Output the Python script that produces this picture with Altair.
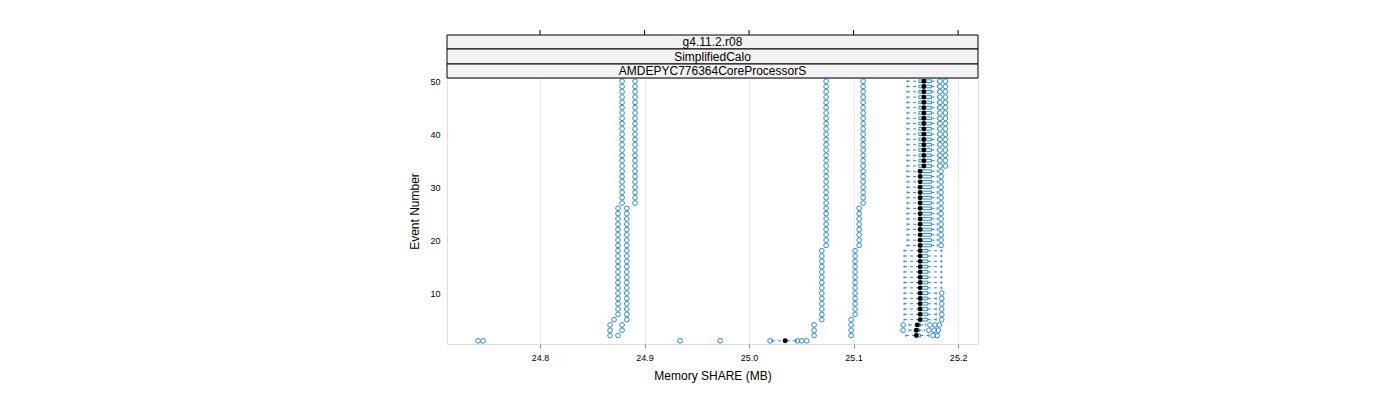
import altair as alt
import pandas as pd

# ---------------- data ----------------
events = list(range(1, 51))

whisker_lo = [25.0220, 25.1500, 25.1530, 25.1530,
              25.1483, 25.1483, 25.1483, 25.1483, 25.1483, 25.1483, 25.1483, 25.1483, 25.1483, 25.1483,
              25.1483, 25.1483, 25.1483, 25.1483,
              25.1512, 25.1512, 25.1512, 25.1512, 25.1512, 25.1512, 25.1512, 25.1512, 25.1512, 25.1512,
              25.1512, 25.1512, 25.1512, 25.1512, 25.1512, 25.1512, 25.1512, 25.1512, 25.1512, 25.1512,
              25.1512, 25.1512, 25.1512, 25.1512, 25.1512, 25.1512, 25.1512, 25.1512, 25.1512, 25.1512,
              25.1512, 25.1512]
box_q1 = [25.0330, 25.1590, 25.1585, 25.1590,
          25.1625, 25.1625, 25.1625, 25.1625, 25.1625, 25.1625, 25.1625, 25.1625, 25.1625, 25.1625,
          25.1625, 25.1625, 25.1625, 25.1625, 25.1625, 25.1625, 25.1625, 25.1625, 25.1625, 25.1625,
          25.1625, 25.1625, 25.1625, 25.1625, 25.1625, 25.1625, 25.1625, 25.1625, 25.1625,
          25.1624, 25.1624, 25.1624, 25.1624, 25.1624, 25.1624, 25.1624, 25.1624, 25.1624, 25.1624,
          25.1624, 25.1624, 25.1624, 25.1624, 25.1624, 25.1624, 25.1624]
median = [25.0345, 25.1600, 25.1600, 25.1610,
          25.1636, 25.1636, 25.1636, 25.1636, 25.1636, 25.1636, 25.1636, 25.1636, 25.1636, 25.1636,
          25.1636, 25.1636, 25.1636, 25.1636, 25.1636, 25.1636, 25.1636, 25.1636, 25.1636, 25.1636,
          25.1636, 25.1636, 25.1636, 25.1636, 25.1636, 25.1636, 25.1636, 25.1636, 25.1636,
          25.1672, 25.1672, 25.1672, 25.1672, 25.1672, 25.1672, 25.1672, 25.1672, 25.1672, 25.1672,
          25.1672, 25.1672, 25.1672, 25.1672, 25.1672, 25.1672, 25.1672]
box_q3 = [25.0360, 25.1640, 25.1630, 25.1640,
          25.1710, 25.1710, 25.1710, 25.1710, 25.1710, 25.1710, 25.1710, 25.1710, 25.1710, 25.1710,
          25.1710, 25.1710, 25.1710, 25.1710,
          25.1745, 25.1745, 25.1745, 25.1745, 25.1745, 25.1745, 25.1745, 25.1745, 25.1745, 25.1745,
          25.1745, 25.1745, 25.1745, 25.1745, 25.1745, 25.1745, 25.1745, 25.1745, 25.1745, 25.1745,
          25.1745, 25.1745, 25.1745, 25.1745, 25.1745, 25.1745, 25.1745, 25.1745, 25.1745, 25.1745,
          25.1745, 25.1745]
whisker_hi = [25.0450, 25.1720, 25.1680, 25.1690,
              25.1790, 25.1790, 25.1790, 25.1790, 25.1790, 25.1790,
              25.1843, 25.1843, 25.1843, 25.1843, 25.1843, 25.1843, 25.1843, 25.1843,
              25.1800, 25.1800, 25.1800, 25.1800, 25.1800, 25.1800, 25.1800, 25.1800, 25.1800, 25.1800,
              25.1800, 25.1800, 25.1800, 25.1800, 25.1800,
              25.1802, 25.1802, 25.1802, 25.1802, 25.1802, 25.1802, 25.1802, 25.1802, 25.1802, 25.1802,
              25.1802, 25.1802, 25.1802, 25.1802, 25.1802, 25.1802, 25.1802]

# outlying runs, one value per event
run_a = [24.7407, 24.8670, 24.8670, 24.8670, 24.8708,
         24.8746, 24.8746, 24.8746, 24.8746, 24.8746, 24.8746, 24.8746, 24.8746, 24.8746, 24.8746,
         24.8746, 24.8746, 24.8746, 24.8746, 24.8746, 24.8746, 24.8746, 24.8746, 24.8746, 24.8746,
         24.8746,
         24.8785, 24.8785, 24.8785, 24.8785, 24.8785, 24.8785, 24.8785, 24.8785, 24.8785, 24.8785,
         24.8785, 24.8785, 24.8785, 24.8785, 24.8785, 24.8785, 24.8785, 24.8785, 24.8785, 24.8785,
         24.8785, 24.8785, 24.8785, 24.8785]
run_b = [24.7455, 24.8746, 24.8785, 24.8785,
         24.8830, 24.8830, 24.8830, 24.8830, 24.8830, 24.8830, 24.8830, 24.8830, 24.8830, 24.8830,
         24.8830, 24.8830, 24.8830, 24.8830, 24.8830, 24.8830, 24.8830, 24.8830, 24.8830, 24.8830,
         24.8830, 24.8830,
         24.8909, 24.8909, 24.8909, 24.8909, 24.8909, 24.8909, 24.8909, 24.8909, 24.8909, 24.8909,
         24.8909, 24.8909, 24.8909, 24.8909, 24.8909, 24.8909, 24.8909, 24.8909, 24.8909, 24.8909,
         24.8909, 24.8909, 24.8909, 24.8909]
run_c = [24.9340, 25.0622, 25.0622, 25.0622,
         25.0696, 25.0696, 25.0696, 25.0696, 25.0696, 25.0696, 25.0696, 25.0696, 25.0696, 25.0696,
         25.0696, 25.0696, 25.0696, 25.0696,
         25.0737, 25.0737, 25.0737, 25.0737, 25.0737, 25.0737, 25.0737, 25.0737, 25.0737, 25.0737,
         25.0737, 25.0737, 25.0737, 25.0737, 25.0737, 25.0737, 25.0737, 25.0737, 25.0737, 25.0737,
         25.0737, 25.0737, 25.0737, 25.0737, 25.0737, 25.0737, 25.0737, 25.0737, 25.0737, 25.0737,
         25.0737, 25.0737]
run_d = [24.9723, 25.0976, 25.0976, 25.0976, 25.0976,
         25.1014, 25.1014, 25.1014, 25.1014, 25.1014, 25.1014, 25.1014, 25.1014, 25.1014, 25.1014,
         25.1014, 25.1014, 25.1014,
         25.1053, 25.1053, 25.1053, 25.1053, 25.1053, 25.1053, 25.1053, 25.1053,
         25.1091, 25.1091, 25.1091, 25.1091, 25.1091, 25.1091, 25.1091, 25.1091, 25.1091, 25.1091,
         25.1091, 25.1091, 25.1091, 25.1091, 25.1091, 25.1091, 25.1091, 25.1091, 25.1091, 25.1091,
         25.1091, 25.1091, 25.1091, 25.1091]

# outliers of the main cluster, per event
extra_outliers = [
    [25.0201, 25.0463, 25.0504, 25.0552],
    [25.1760, 25.1800],
    [25.1474, 25.1720, 25.1770, 25.1810],
    [25.1474, 25.1730, 25.1780, 25.1820],
    [25.1843], [25.1843], [25.1843], [25.1843], [25.1843], [25.1843],
    [], [], [], [], [], [], [], [],
    [25.1837], [25.1837], [25.1837], [25.1837], [25.1837], [25.1837], [25.1837], [25.1837],
    [25.1837], [25.1837], [25.1837], [25.1837], [25.1837], [25.1837], [25.1837],
    [25.1826, 25.1878], [25.1826, 25.1878], [25.1826, 25.1878], [25.1826, 25.1878],
    [25.1826, 25.1878], [25.1826, 25.1878], [25.1826, 25.1878], [25.1826, 25.1878],
    [25.1826, 25.1878], [25.1826, 25.1878], [25.1826, 25.1878], [25.1826, 25.1878],
    [25.1826, 25.1878], [25.1826, 25.1878], [25.1826, 25.1878], [25.1826, 25.1878],
    [25.1826, 25.1878],
]

x_ticks = [24.8, 24.9, 25.0, 25.1, 25.2]
y_ticks = [10, 20, 30, 40, 50]
strip_labels = ["g4.11.2.r08", "SimplifiedCalo", "AMDEPYC776364CoreProcessorS"]

# ---------------- tables ----------------
box_df = pd.DataFrame({"event": events, "wlo": whisker_lo, "q1": box_q1,
                       "med": median, "q3": box_q3, "whi": whisker_hi})
rows = []
for run in (run_a, run_b, run_c, run_d):
    for e, v in zip(events, run):
        rows.append({"event": e, "value": v})
for e, vals in zip(events, extra_outliers):
    for v in vals:
        rows.append({"event": e, "value": v})
out_df = pd.DataFrame(rows)
tick_df = pd.DataFrame({"tick": x_ticks})

BLUE = "#2a8ccb"
FONT = "Liberation Sans"
W, H = 531, 266

x_scale = alt.Scale(domain=[24.711, 25.219], nice=False, zero=False)
y_scale = alt.Scale(domain=[0.4, 50.6], nice=False, zero=False)

x_axis = alt.Axis(values=x_ticks, format=".1f", title="Memory SHARE (MB)", grid=True,
                  gridColor="#ebebeb", gridWidth=1, tickSize=4, labelPadding=5,
                  titlePadding=8, domain=False, titleFontWeight="normal", titleFontSize=12,
                  titleFont=FONT, labelFont=FONT, labelFontSize=9)
y_axis = alt.Axis(values=y_ticks, title="Event Number", grid=False, ticks=False,
                  tickSize=0, labelPadding=7, titlePadding=8, domain=False,
                  titleFontWeight="normal", titleFontSize=12, titleFont=FONT,
                  labelFont=FONT, labelFontSize=9)


def X(field):
    return alt.X(field, scale=x_scale, axis=x_axis)


def Y(field):
    return alt.Y(field, scale=y_scale, axis=y_axis)


base = alt.Chart(box_df).transform_calculate(
    ylo="datum.event - 0.25", yhi="datum.event + 0.25")

lo_whisk = base.mark_rule(color=BLUE, strokeDash=[3, 3], strokeWidth=1).encode(
    x=X("wlo:Q"), x2="q1:Q", y=Y("event:Q"))
hi_whisk = base.mark_rule(color=BLUE, strokeDash=[3, 3], strokeWidth=1).encode(
    x=X("q3:Q"), x2="whi:Q", y=Y("event:Q"))
lo_cap = base.mark_rule(color=BLUE, strokeWidth=1).encode(
    x=X("wlo:Q"), y=Y("ylo:Q"), y2="yhi:Q")
hi_cap = base.mark_rule(color=BLUE, strokeWidth=1).encode(
    x=X("whi:Q"), y=Y("ylo:Q"), y2="yhi:Q")
boxes = base.mark_rect(fillOpacity=0, stroke=BLUE, strokeWidth=1).encode(
    x=X("q1:Q"), x2="q3:Q", y=Y("ylo:Q"), y2="yhi:Q")
outl = alt.Chart(out_df).mark_point(shape="circle", filled=False, color=BLUE,
                                    size=22, strokeWidth=1, opacity=1).encode(
    x=X("value:Q"), y=Y("event:Q"))
meds = base.mark_point(shape="circle", filled=True, color="black", size=24, opacity=1).encode(
    x=X("med:Q"), y=Y("event:Q"))

top_ticks = alt.Chart(tick_df).mark_rule(color="black", strokeWidth=1).encode(
    x=X("tick:Q"), y=alt.value(-48), y2=alt.value(-43))

strip_layers = []
strip_bounds = [(-43, -29), (-29, -14), (-14, 0)]
for lab, (top, bot) in zip(strip_labels, strip_bounds):
    sdf = pd.DataFrame({"label": [lab]})
    strip_layers.append(alt.Chart(sdf).mark_rect(fill="#f2f2f2", stroke="black", strokeWidth=1).encode(
        x=alt.value(0), x2=alt.value(W), y=alt.value(top), y2=alt.value(bot)))
    strip_layers.append(alt.Chart(sdf).mark_text(font=FONT, fontSize=12, color="black",
                                                 baseline="middle", align="center").encode(
        x=alt.value(W / 2), y=alt.value((top + bot) / 2), text="label:N"))

chart = alt.layer(lo_whisk, hi_whisk, lo_cap, hi_cap, boxes, outl, meds, top_ticks,
                  *strip_layers).properties(
    width=W, height=H,
    autosize=alt.AutoSizeParams(type="none"),
    padding={"left": 447, "top": 78, "right": 422, "bottom": 56},
).configure_view(stroke="black", strokeWidth=1).configure_axis(
    labelColor="black", titleColor="black", tickColor="black",
).configure(background="white")

chart.save("out.html", embed_options={"renderer": "svg", "actions": False})
